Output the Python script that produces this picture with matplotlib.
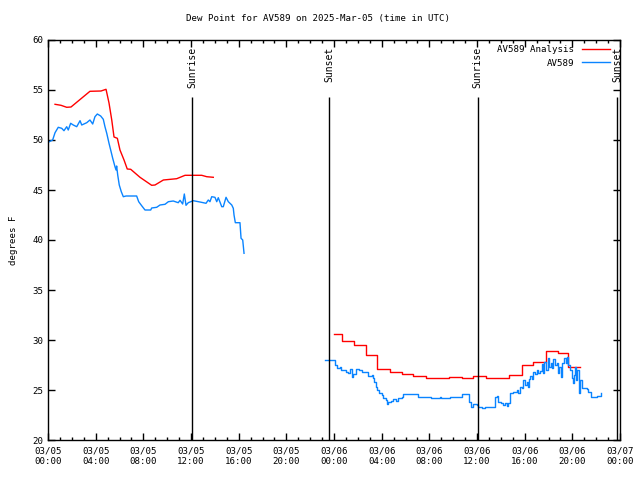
import matplotlib
matplotlib.use('Agg')
import matplotlib.pyplot as plt

# --- datos (horas desde 03/05 00:00 UTC, grados F) ---
HORAS_ANALISIS_1 = [0.59, 1.09, 1.57, 1.93, 3.52, 4.45, 4.87, 5.12, 5.35, 5.54, 5.82, 6.04, 6.38,
                    6.65, 6.94, 7.72, 8.70, 8.98, 9.68, 10.80, 11.50, 12.90, 13.32, 13.87]
VALORES_ANALISIS_1 = [53.57, 53.47, 53.27, 53.3, 54.87, 54.9, 55.07, 53.7, 52.0, 50.3, 50.17, 49.0, 48.0,
                      47.1, 47.07, 46.27, 45.47, 45.5, 46.0, 46.13, 46.47, 46.47, 46.33, 46.27]

HORAS_ANALISIS_2 = [24.0, 24.65, 25.70, 26.66, 27.58, 28.70, 29.68, 30.65, 31.72, 33.67, 34.72, 35.69,
                    36.75, 38.71, 39.75, 40.72, 41.79, 42.77, 43.66, 44.64]
VALORES_ANALISIS_2 = [30.57, 29.9, 29.5, 28.5, 27.1, 26.77, 26.57, 26.43, 26.2, 26.3, 26.2, 26.37,
                      26.2, 26.5, 27.5, 27.77, 28.87, 28.67, 27.27, 27.27]

HORAS_OBS_1 = [0.11, 0.39, 0.59, 0.86, 1.15, 1.34, 1.57, 1.70, 1.90, 2.12, 2.41, 2.69, 2.83, 3.25,
               3.52, 3.75, 3.94, 4.14, 4.42, 4.64, 4.78, 4.93, 5.12, 5.26, 5.43, 5.62, 5.71, 5.76,
               5.85, 5.98, 6.15, 6.32, 6.55, 7.44, 7.61, 7.86, 8.14, 8.62, 8.70, 9.12, 9.40, 9.82,
               10.10, 10.51, 10.93, 11.08, 11.30, 11.44, 11.58, 11.77, 12.19, 12.75, 13.03, 13.26,
               13.45, 13.59, 13.74, 14.01, 14.16, 14.29, 14.58, 14.71, 14.94, 15.13, 15.42, 15.55,
               15.61, 15.72, 16.11, 16.20, 16.34, 16.45]
VALORES_OBS_1 = [49.83, 50.0, 50.73, 51.27, 51.17, 50.93, 51.33, 51.0, 51.67, 51.5, 51.33, 51.93, 51.5,
                 51.73, 52.0, 51.6, 52.33, 52.6, 52.4, 52.07, 51.33, 50.67, 49.67, 49.0, 48.17, 47.33,
                 47.0, 47.4, 46.5, 45.5, 44.83, 44.33, 44.4, 44.4, 43.83, 43.43, 43.0, 43.0, 43.2,
                 43.27, 43.5, 43.57, 43.83, 43.9, 43.73, 43.97, 43.6, 44.6, 43.47, 43.73, 43.93, 43.8,
                 43.73, 43.67, 44.0, 43.83, 44.33, 44.27, 43.83, 44.23, 43.33, 43.33, 44.27, 43.83,
                 43.5, 43.17, 42.5, 41.73, 41.73, 40.17, 40.0, 38.67]

HORAS_OBS_2 = [23.24, 23.94, 24.08, 24.25, 24.50, 24.59, 24.78, 25.01, 25.20, 25.34, 25.48, 25.62,
               25.85, 26.12, 26.32, 26.60, 26.88, 27.16, 27.30, 27.38, 27.52, 27.63, 27.80, 28.00,
               28.14, 28.34, 28.42, 28.56, 28.76, 28.98, 29.20, 29.40, 29.68, 29.82, 30.94, 31.07,
               32.06, 32.15, 32.89, 33.0, 33.73, 34.63, 34.71, 35.27, 35.35, 35.49, 35.69, 35.97,
               36.11, 36.39, 36.67, 37.37, 37.51, 37.65, 37.79, 38.01, 38.21, 38.35, 38.49, 38.63,
               38.77, 39.05, 39.33, 39.47, 39.61, 39.75, 39.88, 40.03, 40.17, 40.25, 40.36, 40.45,
               40.59, 40.72, 40.87, 41.01, 41.14, 41.29, 41.43, 41.56, 41.65, 41.76, 41.93, 42.04,
               42.18, 42.27, 42.40, 42.54, 42.69, 42.82, 42.91, 43.05, 43.16, 43.30, 43.44, 43.58,
               43.66, 43.80, 43.95, 44.03, 44.11, 44.22, 44.31, 44.42, 44.56, 44.64, 44.78, 45.20,
               45.34, 45.56, 45.90, 46.04, 46.40]
VALORES_OBS_2 = [28.03, 28.03, 27.5, 27.17, 27.27, 27.0, 26.97, 26.83, 26.67, 27.1, 26.33, 26.57,
                 27.07, 27.0, 26.77, 26.83, 26.43, 26.5, 26.23, 25.83, 25.33, 25.0, 24.67, 24.5,
                 24.17, 24.03, 23.57, 23.77, 23.9, 24.1, 23.9, 24.17, 24.33, 24.57, 24.57, 24.33,
                 24.33, 24.2, 24.33, 24.2, 24.33, 24.33, 24.6, 24.6, 23.83, 23.33, 23.57, 23.5,
                 23.33, 23.23, 23.3, 23.3, 24.33, 24.4, 23.77, 23.67, 23.5, 23.67, 23.4, 23.67,
                 24.67, 24.83, 25.0, 24.67, 25.33, 25.2, 26.0, 25.5, 25.83, 25.33, 26.07, 26.4,
                 26.07, 26.83, 26.57, 27.0, 26.73, 26.93, 27.6, 26.67, 27.83, 27.0, 28.17, 27.33,
                 27.73, 27.17, 28.07, 27.5, 27.73, 26.67, 27.33, 26.33, 27.67, 28.17, 27.73, 28.33,
                 27.5, 27.0, 26.17, 25.67, 26.5, 27.33, 26.0, 27.0, 24.67, 26.0, 25.17, 25.07,
                 24.83, 24.27, 24.27, 24.4, 24.73]

EVENTOS_SOL = [12.08, 23.57, 36.07, 47.75]
NOMBRES_SOL = ['Sunrise', 'Sunset', 'Sunrise', 'Sunset']

HORAS_TICKS = [0, 4, 8, 12, 16, 20, 24, 28, 32, 36, 40, 44, 48]
ETIQUETAS_TICKS = ['03/05\n00:00', '03/05\n04:00', '03/05\n08:00', '03/05\n12:00', '03/05\n16:00',
                   '03/05\n20:00', '03/06\n00:00', '03/06\n04:00', '03/06\n08:00', '03/06\n12:00',
                   '03/06\n16:00', '03/06\n20:00', '03/07\n00:00']

ROJO = '#ff0000'
AZUL = '#0a84ff'
FUENTE = 'DejaVu Sans Mono'
TAM = 6.6

plt.rcParams['font.family'] = FUENTE
plt.rcParams['font.size'] = TAM

fig = plt.figure(figsize=(6.4, 4.8), dpi=100)
ax = fig.add_axes([48 / 640, 40 / 480, 572 / 640, 400 / 480])

ax.plot(HORAS_ANALISIS_1, VALORES_ANALISIS_1, color=ROJO, lw=1, label='AV589 Analysis')
ax.plot(HORAS_ANALISIS_2, VALORES_ANALISIS_2, color=ROJO, lw=1, drawstyle='steps-post')
ax.plot(HORAS_OBS_1, VALORES_OBS_1, color=AZUL, lw=1, label='AV589')
ax.plot(HORAS_OBS_2, VALORES_OBS_2, color=AZUL, lw=1, drawstyle='steps-post')

for hora, nombre in zip(EVENTOS_SOL, NOMBRES_SOL):
    ax.vlines(hora, 20, 54.3, color='black', lw=1)
    ax.text(hora, 59.3, nombre, rotation=90, ha='center', va='top', fontsize=TAM + 0.4)

ax.set_xlim(0, 48)
ax.set_ylim(20, 60)
ax.set_xticks(HORAS_TICKS)
ax.set_xticklabels(ETIQUETAS_TICKS)
ax.set_xticks(range(0, 49), minor=True)
ax.set_yticks(range(20, 61, 5))
ax.tick_params(which='both', direction='in', top=True, right=True, labelsize=TAM)
ax.tick_params(which='major', length=5, width=1)
ax.tick_params(which='minor', length=2.5, width=1)
ax.tick_params(axis='x', pad=5)
for lado in ax.spines.values():
    lado.set_linewidth(1)

ax.set_ylabel('degrees F', fontsize=TAM, labelpad=10)
fig.text(318 / 640, 1 - 19 / 480, 'Dew Point for AV589 on 2025-Mar-05 (time in UTC)',
         ha='center', va='center', fontsize=TAM)

ax.legend(loc='upper right', bbox_to_anchor=(0.992, 1.0), frameon=False, markerfirst=False,
          handlelength=3.1, handletextpad=0.8, labelspacing=0.45, borderaxespad=0.2, fontsize=TAM)

fig.savefig('out.png', dpi=100)
